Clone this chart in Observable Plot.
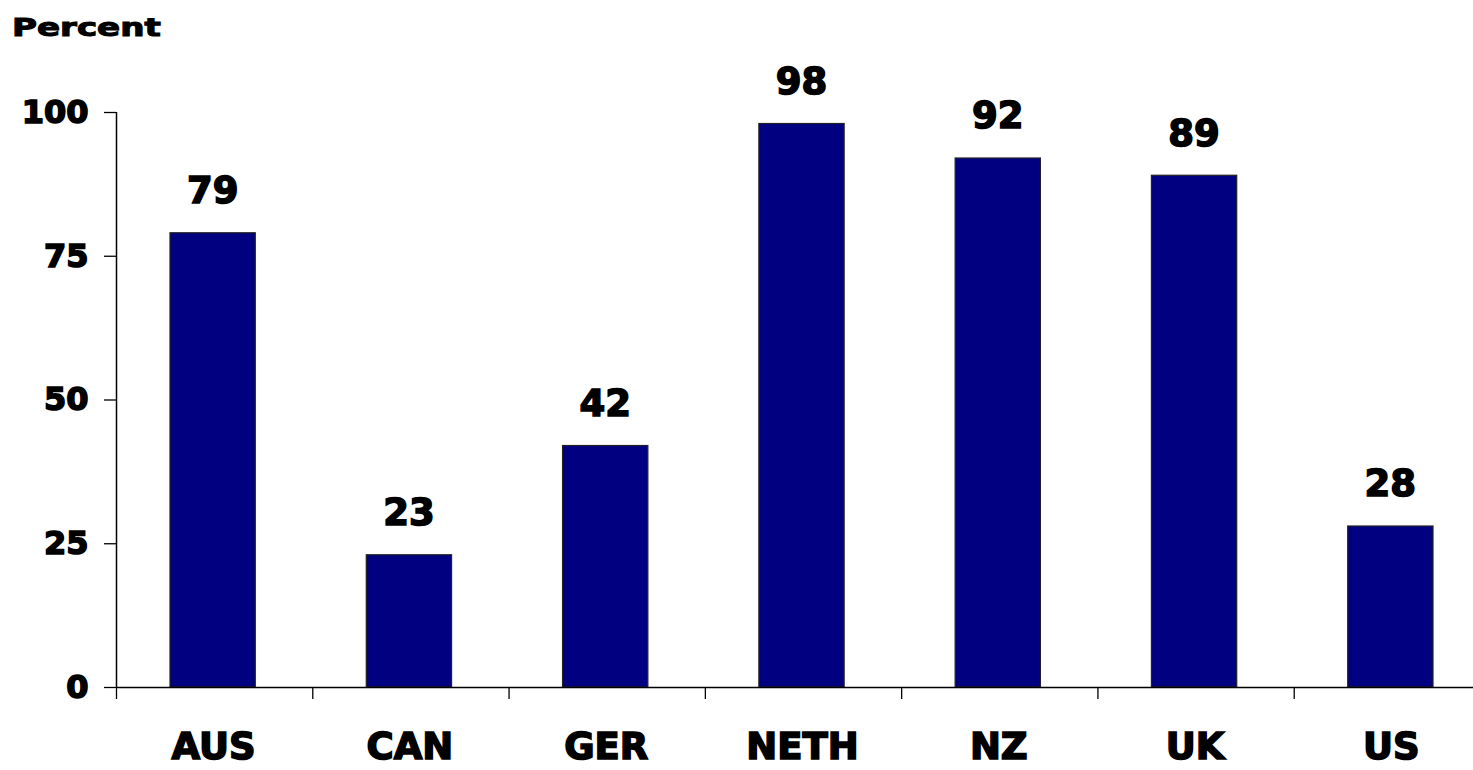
<!DOCTYPE html>
<html>
<head>
<meta charset="utf-8">
<script src="https://cdn.jsdelivr.net/npm/d3@7"></script>
<script src="https://cdn.jsdelivr.net/npm/@observablehq/plot@0.6"></script>
<style>
  html, body { margin: 0; padding: 0; background: #fff; overflow: hidden; }
  #wrap { position: relative; width: 1473px; height: 770px; }
  #unit {
    position: absolute; left: 12px; top: 14px;
    font-family: "DejaVu Sans", sans-serif; font-weight: bold; font-size: 24px;
    color: #000; transform: scaleX(1.42); transform-origin: left top;
    -webkit-text-stroke: 1px #000;
  }
  #chart svg { overflow: hidden; }
  #chart svg text { stroke: #000; stroke-width: 1.6px; }
</style>
</head>
<body>
<div id="wrap">
  <div id="unit">Percent</div>
  <div id="chart"></div>
</div>
<script>
// Share of respondents, by country
const countries = ["AUS", "CAN", "GER", "NETH", "NZ", "UK", "US"];
const percents = [79, 23, 42, 98, 92, 89, 28];
const yTicks = [0, 25, 50, 75, 100];

const rows = countries.map((c, i) => ({country: c, index: i, value: percents[i]}));
const boundaries = d3.range(countries.length + 1);

const chart = Plot.plot({
  width: 1473,
  height: 770,
  marginTop: 112,
  marginBottom: 83,
  marginLeft: 116,
  marginRight: 0,
  style: {fontFamily: "DejaVu Sans, sans-serif", fontWeight: "bold", fontSize: "32px", color: "#000", background: "#fff"},
  x: {domain: [0, countries.length], range: [116, 1490]},
  y: {domain: [0, 100]},
  marks: [
    // category boundary ticks below the baseline
    Plot.axisX({ticks: boundaries, tickSize: 12, tickFormat: () => "", label: null, stroke: "#000", strokeWidth: 1.3}),
    // value axis
    Plot.axisY({ticks: yTicks, tickSize: 12, tickPadding: 16, stroke: "#000", strokeWidth: 1.3, label: null}),
    Plot.ruleX([0], {stroke: "#000", strokeWidth: 1.5}),
    Plot.rectY(rows, {
      x1: "index", x2: d => d.index + 1, y: "value",
      insetLeft: 54, insetRight: 57,
      fill: "#000080", stroke: "#222", strokeWidth: 1.2
    }),
    Plot.ruleY([0], {stroke: "#000", strokeWidth: 1.5}),
    // value labels above bars
    Plot.text(rows, {
      x: d => d.index + 0.5, y: "value", text: d => String(d.value),
      dy: -42, dx: -2, fontSize: 37, fontWeight: "bold", fill: "#000"
    }),
    // category labels under the axis
    Plot.text(rows, {
      x: d => d.index + 0.5, text: "country", frameAnchor: "bottom",
      dy: 71, dx: -1, fontSize: 37, fontWeight: "bold", fill: "#000"
    })
  ]
});
document.getElementById("chart").appendChild(chart);
</script>
</body>
</html>
